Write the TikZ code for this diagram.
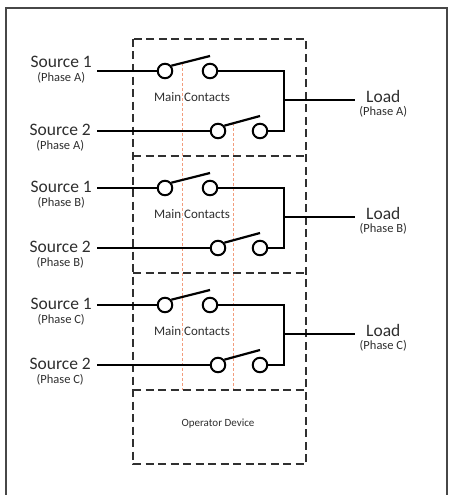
\documentclass[tikz,border=0pt]{standalone}
\usepackage{fontspec}
\setmainfont{Carlito}
\usetikzlibrary{positioning, backgrounds}
\definecolor{txtgray}{HTML}{2E2E2E}
\definecolor{boxgray}{HTML}{303030}
\definecolor{linkorange}{HTML}{F39C7C}
\tikzset{
  contact/.style={circle, draw, line width=2pt, minimum size=14.5pt, inner sep=0pt, fill=white},
  wire/.style={line width=2.2pt},
  srclabel/.style={text=txtgray, font=\fontsize{17.5}{18}\selectfont, inner sep=0pt},
  phaselabel/.style={text=txtgray, font=\fontsize{12.5}{14}\selectfont, inner sep=0pt},
  mclabel/.style={text=txtgray, font=\fontsize{13}{14}\selectfont, inner sep=0pt},
  boxline/.style={boxgray, line width=1.9pt, dash pattern=on 8pt off 4.5pt},
  linkage/.style={linkorange, line width=1pt, dash pattern=on 3pt off 2pt}
}

\begin{document}
\begin{tikzpicture}[x=1pt,y=-1pt]
\useasboundingbox (0,0) rectangle (448,495);
% frame
\draw[line width=2pt, black!72] (6,500) -- (6,8) -- (447,8) -- (447,500);

% dashed enclosure
\draw[boxline] (133,39) rectangle (306,464);
\foreach \yy in {156,273,390}
  \draw[boxline] (133,\yy) -- (306,\yy);
\node[text=txtgray, font=\fontsize{11}{12}\selectfont, inner sep=0pt] (opdev) at (218,424) {Operator Device};
\coordinate (optop) at (218,390);

\foreach \p/\t/\d in {A/39/-9, B/156/-1, C/273/-1}{
  % labels
  \node[srclabel, anchor=east] (src1\p) at (92,\t+32+\d) {Source 1};
  \node[phaselabel, below=4pt of src1\p] (ph1\p) {(Phase \p)};
  \node[srclabel, anchor=east] (src2\p) at (91,\t+91) {Source 2};
  \node[phaselabel, below=4pt of src2\p] (ph2\p) {(Phase \p)};
  \node[srclabel, anchor=west] (load\p) at (366,\t+57) {Load};
  \node[phaselabel, below=4pt of load\p] (ph3\p) {(Phase \p)};
  \node[mclabel] (mc\p) at (192,\t+58) {Main Contacts};
  % contacts
  \node[contact] (c1l\p) at (165,\t+32) {};
  \node[contact] (c1r\p) at (210,\t+32) {};
  \node[contact] (c2l\p) at (218,\t+92) {};
  \node[contact] (c2r\p) at (260,\t+92) {};
  \coordinate (in1\p) at (97,\t+32);
  \coordinate (in2\p) at (97,\t+92);
  \coordinate (bus1\p) at (284,\t+32);
  \coordinate (bus2\p) at (284,\t+92);
  \coordinate (busm\p) at (284,\t+61);
  \coordinate (out\p) at (355,\t+61);
  % wires
  \draw[wire] (in1\p) -- (c1l\p);
  \draw[wire] (in2\p) -- (c2l\p);
  \draw[wire] (c1r\p) -- (bus1\p) -- (bus2\p) -- (c2r\p);
  \draw[wire] (busm\p) -- (out\p);
  \draw[wire] (c1l\p.40) -- ([yshift=15pt]c1r\p.center);
  \draw[wire] (c2l\p.40) -- ([yshift=15pt]c2r\p.center);
}

% mechanical linkage
\path (c1lA.40) -- ([yshift=15pt]c1rA.center) coordinate[pos=0.28] (lk1);
\path (c2lA.40) -- ([yshift=15pt]c2rA.center) coordinate[pos=0.27] (lk2);
\begin{scope}[on background layer]
\draw[linkage] (lk1) -- (lk1 |- optop);
\draw[linkage] (lk2) -- (lk2 |- optop);
\end{scope}
\end{tikzpicture}
\end{document}
